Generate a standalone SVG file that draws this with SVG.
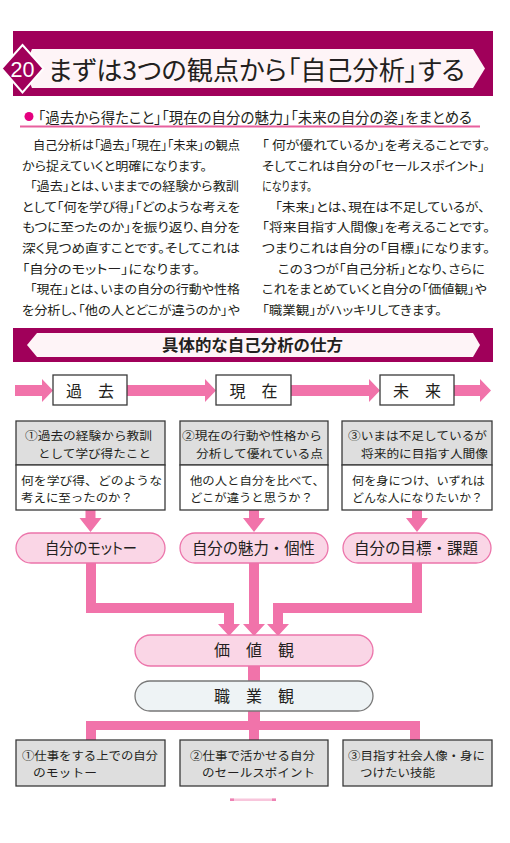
<svg xmlns="http://www.w3.org/2000/svg" width="510" height="843" viewBox="0 0 510 843">
<style>
.jp{font-family:"Noto Sans CJK JP","Noto Sans CJK SC",sans-serif;fill:#231f20;}
.pt{font-feature-settings:"palt";}
.body{font-size:12.5px;}
.box{font-size:11.7px;}
.pk{fill:#f173aa;}
.pill{fill:#fad6e6;stroke:#ec74aa;stroke-width:1.3;}
.gbox{fill:#dedede;stroke:#3a3a3a;stroke-width:1.3;}
.wbox{fill:#ffffff;stroke:#3a3a3a;stroke-width:1.3;}
</style>
<rect width="510" height="843" fill="#ffffff"/>

<g id="header">
<rect x="13" y="31" width="480" height="65" fill="#a0005a"/>
<polygon points="32,49 473,49 485,68.5 473,88 32,88 24,68.5" fill="#fef4f7"/>
<polygon points="22.5,45 43.5,68.5 22.5,92.5 1.5,68.5" fill="#a0005a" stroke="#ffffff" stroke-width="2"/>
<text x="22.5" y="77" text-anchor="middle" font-family="Liberation Sans,Arial,sans-serif" font-size="22" fill="#ffffff" textLength="24" lengthAdjust="spacingAndGlyphs">20</text>
<text class="jp pt" x="48" y="80" font-size="26" textLength="417" lengthAdjust="spacingAndGlyphs">まずは3つの観点から「自己分析」する</text>
</g>

<g id="subtitle">
<circle cx="29" cy="116.5" r="4.5" fill="#e4007f"/>
<text class="jp pt" x="38" y="122.5" font-size="15" textLength="434" lengthAdjust="spacingAndGlyphs">「過去から得たこと」「現在の自分の魅力」「未来の自分の姿」をまとめる</text>
<rect x="20" y="125.5" width="460" height="2" fill="#e8609e"/>
</g>

<g id="bodytext" class="jp pt body">
<text x="33" y="150" textLength="207" lengthAdjust="spacingAndGlyphs">自己分析は「過去」「現在」「未来」の観点</text>
<text x="22" y="170.6" textLength="185" lengthAdjust="spacingAndGlyphs">から捉えていくと明確になります。</text>
<text x="30" y="191.2" textLength="209" lengthAdjust="spacingAndGlyphs">「過去」とは、いままでの経験から教訓</text>
<text x="22" y="211.8" textLength="218" lengthAdjust="spacingAndGlyphs">として「何を学び得」「どのような考えを</text>
<text x="22" y="232.4" textLength="218" lengthAdjust="spacingAndGlyphs">もつに至ったのか」を振り返り、自分を</text>
<text x="22" y="253" textLength="218" lengthAdjust="spacingAndGlyphs">深く見つめ直すことです。そしてこれは</text>
<text x="22" y="273.6" textLength="178" lengthAdjust="spacingAndGlyphs">「自分のモットー」になります。</text>
<text x="30" y="294.2" textLength="210" lengthAdjust="spacingAndGlyphs">「現在」とは、いまの自分の行動や性格</text>
<text x="22" y="314.8" textLength="218" lengthAdjust="spacingAndGlyphs">を分析し、「他の人とどこが違うのか」や</text>
<text x="262" y="150" textLength="228" lengthAdjust="spacingAndGlyphs">「 何が優れているか」を考えることです。</text>
<text x="262" y="170.6" textLength="223" lengthAdjust="spacingAndGlyphs">そしてこれは自分の「セールスポイント」</text>
<text x="262" y="191.2" textLength="50" lengthAdjust="spacingAndGlyphs">になります。</text>
<text x="275" y="211.8" textLength="210" lengthAdjust="spacingAndGlyphs">「未来」とは、現在は不足しているが、</text>
<text x="262" y="232.4" textLength="228" lengthAdjust="spacingAndGlyphs">「将来目指す人間像」を考えることです。</text>
<text x="262" y="253" textLength="228" lengthAdjust="spacingAndGlyphs">つまりこれは自分の「目標」になります。</text>
<text x="278" y="273.6" textLength="207" lengthAdjust="spacingAndGlyphs">この３つが「自己分析」となり、さらに</text>
<text x="262" y="294.2" textLength="225" lengthAdjust="spacingAndGlyphs">これをまとめていくと自分の「価値観」や</text>
<text x="262" y="314.8" textLength="180" lengthAdjust="spacingAndGlyphs">「職業観」がハッキリしてきます。</text>
</g>

<g id="section-title">
<rect x="13" y="328" width="480" height="34" fill="#a0005a"/>
<polygon points="37,333 473,333 480,345 473,357 37,357 27,345" fill="#fef4f7"/>
<text class="jp" x="162" y="350.5" font-size="15.5" font-weight="bold" textLength="181" lengthAdjust="spacingAndGlyphs">具体的な自己分析の仕方</text>
</g>

<g id="connectors" class="pk">
<polygon points="15,385 42,385 42,379 53,390.5 42,402 42,396 15,396"/>
<polygon points="127,385 205,385 205,379 216,390.5 205,402 205,396 127,396"/>
<polygon points="291,385 369,385 369,379 380,390.5 369,402 369,396 291,396"/>
<polygon points="454,385 480,385 480,379 491,390.5 480,402 480,396 454,396"/>
<polygon points="85.5,510 95.5,510 95.5,518 101.5,518 90.5,532 79.5,518 85.5,518"/>
<polygon points="249,510 259,510 259,518 265,518 254,532 243,518 249,518"/>
<polygon points="412,510 422,510 422,518 428,518 417,532 406,518 412,518"/>
<polygon points="86,563 96,563 96,603 234,603 234,624 240,624 229,636 218,624 224,624 224,613 86,613"/>
<polygon points="249,563 259,563 259,624 265,624 254,636 243,624 249,624"/>
<polygon points="412,563 422,563 422,613 283,613 283,624 289,624 278,636 267,624 273,624 273,603 412,603"/>
<rect x="248" y="666" width="12" height="15"/>
<rect x="248" y="711" width="12" height="12"/>
<rect x="86" y="721" width="334" height="9"/>
<rect x="86" y="721" width="10" height="19"/>
<rect x="249" y="721" width="10" height="19"/>
<rect x="410" y="721" width="10" height="19"/>
</g>

<g id="node-kako">
<rect x="53" y="375" width="74" height="30" class="wbox"/>
<text class="jp" x="90" y="396.8" font-size="16" text-anchor="middle">過　去</text>
</g>
<g id="node-genzai">
<rect x="216" y="375" width="75" height="30" class="wbox"/>
<text class="jp" x="253.5" y="396.8" font-size="16" text-anchor="middle">現　在</text>
</g>
<g id="node-mirai">
<rect x="380" y="375" width="74" height="30" class="wbox"/>
<text class="jp" x="417" y="396.8" font-size="16" text-anchor="middle">未　来</text>
</g>

<g id="box1" class="jp box">
<rect x="16" y="421" width="149" height="44" class="gbox"/>
<rect x="16" y="465" width="149" height="45" class="wbox"/>
<text x="25" y="439.5" textLength="127" lengthAdjust="spacingAndGlyphs">①過去の経験から教訓</text>
<text x="38" y="457.5" textLength="113" lengthAdjust="spacingAndGlyphs">として学び得たこと</text>
<text x="21" y="484.5" textLength="141" lengthAdjust="spacingAndGlyphs">何を学び得、どのような</text>
<text x="21" y="501.5" textLength="112" lengthAdjust="spacingAndGlyphs">考えに至ったのか？</text>
</g>
<g id="box2" class="jp box">
<rect x="180" y="421" width="148" height="44" class="gbox"/>
<rect x="180" y="465" width="148" height="45" class="wbox"/>
<text x="182" y="439.5" textLength="140" lengthAdjust="spacingAndGlyphs">②現在の行動や性格から</text>
<text x="196" y="457.5" textLength="127" lengthAdjust="spacingAndGlyphs">分析して優れている点</text>
<text x="190" y="484.5" textLength="135" lengthAdjust="spacingAndGlyphs">他の人と自分を比べて、</text>
<text x="190" y="501.5" textLength="123" lengthAdjust="spacingAndGlyphs">どこが違うと思うか？</text>
</g>
<g id="box3" class="jp box">
<rect x="342" y="421" width="150" height="44" class="gbox"/>
<rect x="342" y="465" width="150" height="45" class="wbox"/>
<text x="348" y="439.5" textLength="139" lengthAdjust="spacingAndGlyphs">③いまは不足しているが</text>
<text x="361" y="457.5" textLength="127" lengthAdjust="spacingAndGlyphs">将来的に目指す人間像</text>
<text x="352" y="484.5" textLength="133" lengthAdjust="spacingAndGlyphs">何を身につけ、いずれは</text>
<text x="352" y="501.5" textLength="131" lengthAdjust="spacingAndGlyphs">どんな人になりたいか？</text>
</g>

<g id="pill1">
<rect x="16" y="533" width="149" height="30" rx="15" class="pill"/>
<text class="jp pt" x="45" y="553.5" font-size="15.5" textLength="92" lengthAdjust="spacingAndGlyphs">自分のモットー</text>
</g>
<g id="pill2">
<rect x="180" y="533" width="148" height="30" rx="15" class="pill"/>
<text class="jp" x="192" y="553.5" font-size="15.5" textLength="123" lengthAdjust="spacingAndGlyphs">自分の魅力・個性</text>
</g>
<g id="pill3">
<rect x="343" y="533" width="148" height="30" rx="15" class="pill"/>
<text class="jp" x="354" y="553.5" font-size="15.5" textLength="124" lengthAdjust="spacingAndGlyphs">自分の目標・課題</text>
</g>

<g id="kachikan">
<rect x="135" y="635" width="238" height="31" rx="15.5" class="pill"/>
<text class="jp" x="254" y="656" font-size="16" text-anchor="middle">価　値　観</text>
</g>
<g id="shokugyokan">
<rect x="135" y="681" width="238" height="30" rx="15" fill="#eef3f5" stroke="#777777" stroke-width="1.3"/>
<text class="jp" x="254" y="701.7" font-size="16" text-anchor="middle">職　業　観</text>
</g>

<g id="bottom1" class="jp box">
<rect x="16" y="740" width="149" height="46" class="gbox"/>
<text x="22" y="760" textLength="136" lengthAdjust="spacingAndGlyphs">①仕事をする上での自分</text>
<text x="33" y="777" textLength="64" lengthAdjust="spacingAndGlyphs">のモットー</text>
</g>
<g id="bottom2" class="jp box">
<rect x="180" y="740" width="148" height="46" class="gbox"/>
<text x="190" y="760" textLength="125" lengthAdjust="spacingAndGlyphs">②仕事で活かせる自分</text>
<text x="202" y="777" textLength="113" lengthAdjust="spacingAndGlyphs">のセールスポイント</text>
</g>
<g id="bottom3" class="jp box">
<rect x="343" y="740" width="149" height="46" class="gbox"/>
<text x="348" y="760" textLength="137" lengthAdjust="spacingAndGlyphs">③目指す社会人像・身に</text>
<text x="360" y="777" textLength="75" lengthAdjust="spacingAndGlyphs">つけたい技能</text>
</g>

<g id="footer-mark">
<rect x="230" y="798.5" width="46" height="2.5" fill="#f8c6dc"/>
<rect x="230" y="798.5" width="4" height="2.5" fill="#ee82b4"/>
<rect x="272" y="798.5" width="4" height="2.5" fill="#ee82b4"/>
</g>
</svg>
